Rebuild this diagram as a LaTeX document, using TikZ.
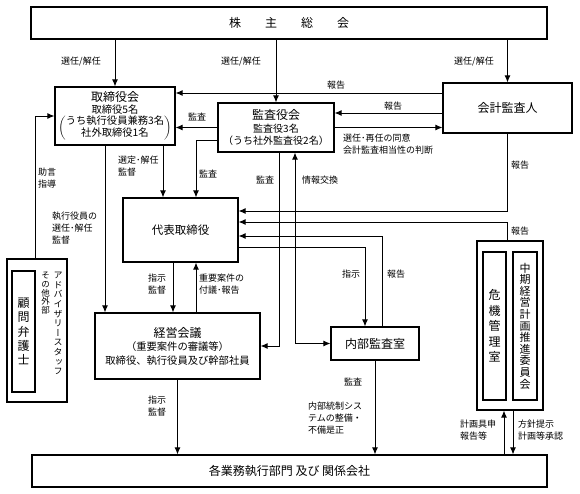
\documentclass[tikz,border=0pt]{standalone}
\usepackage{fontspec}
\setmainfont{Noto Sans CJK JP}
\newfontfamily\tate[RawFeature=+vert]{Noto Sans CJK JP}
\usetikzlibrary{arrows.meta,positioning}

\tikzset{
  box/.style={draw, rectangle, line width=1.1pt, inner sep=0pt, align=center},
  lbl/.style={font=\fontsize{9}{12}\selectfont, align=left, inner sep=0pt},
  flow/.style={->, line width=1pt},
}

\begin{document}
\begin{tikzpicture}[x=1pt, y=-1pt, >={Latex[length=7pt,width=6pt]}]
  \useasboundingbox (0,0) rectangle (580,493);

  \node[box, minimum width=516pt, minimum height=32pt, font=\fontsize{12}{14}\selectfont] (kabu) at (289,23) {株　　主　　総　　会};
  \node[box, minimum width=120pt, minimum height=58pt, font=\fontsize{10.3}{12.5}\selectfont] (tori) at (115,116)
    {{\fontsize{12}{14}\selectfont 取締役会}\\取締役5名\\$\left(\begin{tabular}{@{}c@{}}うち執行役員兼務3名\\社外取締役1名\end{tabular}\right)$};
  \node[box, minimum width=116pt, minimum height=49pt, font=\fontsize{10}{12.5}\selectfont] (kansa) at (276,127.5)
    {{\fontsize{12}{14}\selectfont 監査役会}\\監査役3名\\（うち社外監査役2名）};
  \node[box, minimum width=129pt, minimum height=50pt, font=\fontsize{12}{14}\selectfont] (kaikei) at (507.5,108) {会計監査人};
  \node[box, minimum width=115pt, minimum height=64pt, font=\fontsize{11.5}{14}\selectfont] (daihyo) at (180.5,230) {代表取締役};
  \node[box, minimum width=165pt, minimum height=66pt, font=\fontsize{10.3}{13.5}\selectfont] (keiei) at (177.5,346)
    {{\fontsize{12}{14}\selectfont 経営会議}\\（重要案件の審議等）\\取締役、執行役員及び幹部社員};
  \node[box, minimum width=88pt, minimum height=33pt, font=\fontsize{12}{14}\selectfont] (naibu) at (375,343.5) {内部監査室};
  \node[box, minimum width=515pt, minimum height=32pt, font=\fontsize{12}{14}\selectfont] (gyomu) at (289.5,471) {各業務執行部門 及び 関係会社};

  \node[box, minimum width=60pt, minimum height=143pt] (komon) at (37,330.5) {};
  \node[box, minimum width=23pt, minimum height=121pt, font=\fontsize{12}{14.3}\selectfont] (bengo) at (23.5,331.5) {顧\\問\\弁\\護\\士};
  \node[inner sep=0pt, align=center, anchor=north, font=\fontsize{8.5}{8.7}\selectfont] (sonota) at (45.5,272) {そ\\の\\他\\外\\部};
  \node[inner sep=0pt, align=center, anchor=north, font=\tate\fontsize{9}{9.6}\selectfont] (advisor) at (58,272) {ア\\ド\\バ\\イ\\ザ\\リ\\ー\\ス\\タ\\ッ\\フ};

  \node[box, minimum width=66pt, minimum height=169pt] (iinkai) at (510,325.5) {};
  \node[box, minimum width=23pt, minimum height=148pt, font=\fontsize{12}{15.5}\selectfont] (kiki) at (494.5,326) {危\\機\\管\\理\\室};
  \node[box, minimum width=24pt, minimum height=148pt, font=\fontsize{11}{11.6}\selectfont] (chuki) at (525,326) {中\\期\\経\\営\\計\\画\\推\\進\\委\\員\\会};

  \draw[flow] (kabu.south -| tori.north) -- (tori.north);
  \draw[flow] (kabu.south -| kansa.north) -- (kansa.north);
  \draw[flow] (kabu.south -| kaikei.north) -- (kaikei.north);
  \draw[flow] ([yshift=15pt]kaikei.west) -- ([yshift=15pt]kaikei.west -| tori.east);
  \draw[flow] ([yshift=-5pt]kaikei.west) -- ([yshift=-5pt]kaikei.west -| kansa.east);
  \draw[flow] (kansa.east) -- (kansa.east -| kaikei.west);
  \draw[flow] (kansa.west) -- (kansa.west -| tori.east);
  \draw[flow] ([yshift=-12.5pt]kansa.west) -| ([xshift=15.5pt]daihyo.north);
  \draw[flow] ([xshift=48pt]tori.south) -- ([xshift=48pt]tori.south |- daihyo.north);
  \draw[flow] ([xshift=-10pt]tori.south) -- ([xshift=-10pt]tori.south |- keiei.north);
  \draw[flow] ([xshift=-2pt]komon.north) |- (tori.west);
  \draw[flow] ([xshift=-7.5pt]daihyo.south) -- ([xshift=-7.5pt]daihyo.south |- keiei.north);
  \draw[flow] ([xshift=15.5pt]daihyo.south |- keiei.north) -- ([xshift=15.5pt]daihyo.south);
  \draw[flow] (kaikei.south) |- ([yshift=19pt]daihyo.east);
  \draw[flow] ([xshift=-3pt]iinkai.north) |- ([yshift=8pt]daihyo.east);
  \draw[flow] ([xshift=7pt]naibu.north) |- ([yshift=-6pt]daihyo.east);
  \draw[flow] ([yshift=-17pt]daihyo.east) -| ([xshift=-10pt]naibu.north);
  \draw[flow] ([xshift=3pt]kansa.south) |- (keiei.east);
  \draw[flow, <->] ([xshift=19pt]kansa.south) |- (naibu.west);
  \draw[flow] (keiei.south) -- (keiei.south |- gyomu.north);
  \draw[flow] (naibu.south) -- (naibu.south |- gyomu.north);
  \draw[flow] ([xshift=-6pt]iinkai.south |- gyomu.north) -- ([xshift=-6pt]iinkai.south);
  \draw[flow] ([xshift=3pt]iinkai.south) -- ([xshift=3pt]iinkai.south |- gyomu.north);

  \node[lbl] (sen1) at (81,62) {選任/解任};
  \node[lbl] (sen2) at (241,62) {選任/解任};
  \node[lbl] (sen3) at (474,62) {選任/解任};
  \node[lbl] (hok1) at (336,85) {報告};
  \node[lbl] (hok2) at (393,106) {報告};
  \node[lbl, anchor=west] (doui) at (343,144) {選任･再任の同意\\会計監査相当性の判断};
  \node[lbl] (kan1) at (197,117) {監査};
  \node[lbl] (kan2) at (208,174) {監査};
  \node[lbl, anchor=west] (sentei) at (118,166) {選定･解任\\監督};
  \node[lbl, anchor=west] (shikko) at (52,228) {執行役員の\\選任･解任\\監督};
  \node[lbl, anchor=west] (jogen) at (38,178) {助言\\指導};
  \node[lbl, anchor=west] (shiji1) at (148,284) {指示\\監督};
  \node[lbl, anchor=west] (fugi) at (199,284) {重要案件の\\付議･報告};
  \node[lbl, anchor=west] (hok3) at (511,165) {報告};
  \node[lbl, anchor=west] (hok4) at (511,231) {報告};
  \node[lbl, anchor=west] (hok5) at (387,274) {報告};
  \node[lbl, anchor=west] (shiji2) at (342,274) {指示};
  \node[lbl] (kan3) at (265,180) {監査};
  \node[lbl, anchor=west] (joho) at (302,180) {情報交換};
  \node[lbl, anchor=west] (shiji3) at (148,406) {指示\\監督};
  \node[lbl] (kan4) at (353,382) {監査};
  \node[lbl, anchor=west] (tosei) at (308,418) {内部統制シス\\テムの整備・\\不備是正};
  \node[lbl, anchor=west] (gushin) at (460,430) {計画具申\\報告等};
  \node[lbl, anchor=west] (hoshin) at (518,430) {方針提示\\計画等承認};
\end{tikzpicture}
\end{document}
